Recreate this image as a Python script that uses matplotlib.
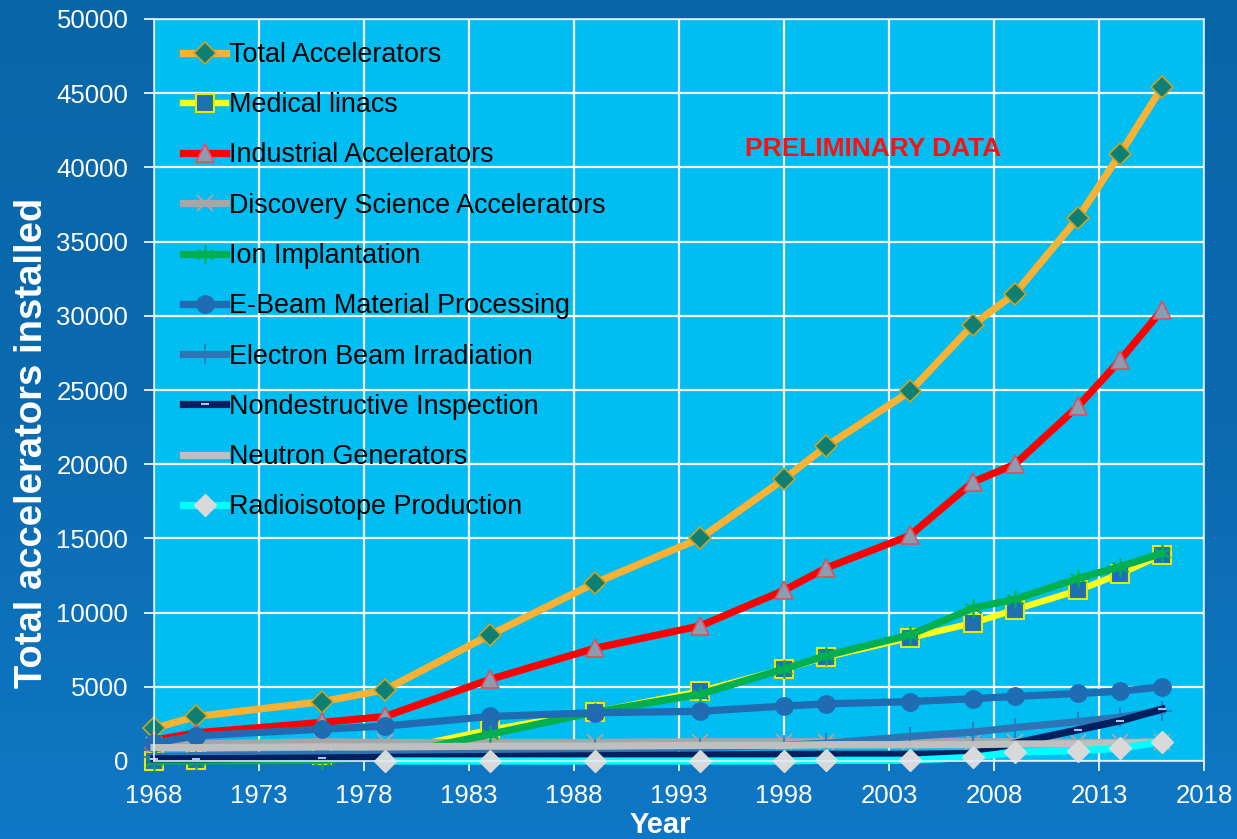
import numpy as np
import matplotlib
matplotlib.use('Agg')
import matplotlib.pyplot as plt
from matplotlib.colors import LinearSegmentedColormap

nan = np.nan
years = [1968, 1970, 1976, 1979, 1984, 1989, 1994, 1998, 2000, 2004, 2007, 2009, 2012, 2014, 2016]
total = [2200, 3000, 4000, 4800, 8500, 12000, 15000, 19000, 21200, 24900, 29400, 31500, 36600, 40900, 45400]
medical = [0, 100, 400, 600, 2100, 3300, 4700, 6200, 7000, 8300, 9300, 10200, 11500, 12600, 13900]
industrial = [1400, 1900, 2600, 3000, 5500, 7600, 9100, 11500, 13000, 15200, 18800, 20000, 23900, 27000, 30400]
discovery = [1100, 1150, 1300, 1250, 1250, 1250, 1300, 1300, 1300, 1300, 1300, 1300, 1250, 1250, 1300]
ion = [0, 0, 50, 300, 1800, 3300, 4500, 6200, 7100, 8500, 10300, 10900, 12300, 13100, 14000]
ebeam = [1200, 1700, 2150, 2350, 3000, 3250, 3350, 3700, 3850, 4000, 4200, 4350, 4550, 4700, 5000]
ebi = [300, 350, 450, 500, 700, 800, 900, 1050, 1200, 1650, 1950, 2250, 2650, 2950, 3400]
ndi = [150, 150, 200, 250, 300, 350, 400, 450, 450, 450, 500, 1200, 2100, 2700, 3500]
neutron = [900, 900, 950, 950, 1000, 1000, 1050, 1050, 1100, 1100, 1100, 1150, 1150, 1200, 1250]
radio = [nan, nan, nan, 0, 0, 0, 0, 0, 50, 50, 250, 600, 700, 850, 1300]

names = ["Total Accelerators", "Medical linacs", "Industrial Accelerators",
         "Discovery Science Accelerators", "Ion Implantation",
         "E-Beam Material Processing", "Electron Beam Irradiation",
         "Nondestructive Inspection", "Neutron Generators", "Radioisotope Production"]
x_ticks = [1968, 1973, 1978, 1983, 1988, 1993, 1998, 2003, 2008, 2013, 2018]
y_ticks = list(range(0, 50001, 5000))

plt.rcParams['font.family'] = ['Liberation Sans', 'DejaVu Sans']

W, H = 1237, 839
fig = plt.figure(figsize=(W / 100, H / 100), dpi=100)
fig.patch.set_facecolor('#0D63A6')

# background gradient
bg = fig.add_axes([0, 0, 1, 1], zorder=-10)
grad = np.linspace(0, 1, 256).reshape(-1, 1)
cmap = LinearSegmentedColormap.from_list('bg', ['#0F78C6', '#0B6AAF', '#0866A8'])
bg.imshow(grad, aspect='auto', cmap=cmap, extent=[0, 1, 0, 1], origin='lower')
bg.axis('off')

L, R, T, B = 154, 1204, 19, 761
ax = fig.add_axes([L / W, (H - B) / H, (R - L) / W, (B - T) / H])
ax.set_facecolor('#00BEF2')

series = [
    (total, dict(color='#F9B233', lw=5.2, marker='D', ms=11, mfc='#0E7F73', mec='#C9A227', mew=1.2)),
    (medical, dict(color='#FFFF1A', lw=4.6, marker='s', ms=12.5, mfc='#1F6FB5', mec='#E8E800', mew=1.5)),
    (industrial, dict(color='#FF0000', lw=5.2, marker='^', ms=13, mfc='#8D9BB3', mec='#E0505A', mew=1.2)),
    (discovery, dict(color='#A6A6A6', lw=5.2, marker='x', ms=12, mec='#A6A6A6', mew=1.5)),
    (ion, dict(color='#00B050', lw=5.2, marker=(6, 2, 0), ms=13, mec='#00B050', mew=1.2)),
    (ebeam, dict(color='#1F6CB2', lw=5.2, marker='o', ms=12.5, mfc='#1F6CB2', mec='#1F6CB2')),
    (ebi, dict(color='#2E75B6', lw=5.2, marker='+', ms=14, mec='#2E75B6', mew=1.2)),
    (ndi, dict(color='#001F5F', lw=5.2, marker='_', ms=6, mec='#A9C4EB', mew=1.5)),
    (neutron, dict(color='#BFBFBF', lw=5.2)),
    (radio, dict(color='#00FFFF', lw=5.2, marker='D', ms=11, mfc='#D9D9D9', mec='#D9D9D9')),
]
for (vals, style), name in zip(series, names):
    ax.plot(years, vals, label=name, clip_on=False, **style)

ax.set_xlim(1968, 2018)
ax.set_ylim(0, 50000)
ax.set_xticks(x_ticks)
ax.set_yticks(y_ticks)
ax.set_xticklabels([str(v) for v in x_ticks])
ax.set_yticklabels([str(v) for v in y_ticks])
ax.grid(True, color='white', lw=1.6)
ax.set_axisbelow(True)
for s in ax.spines.values():
    s.set_color('#DDEEFF')
    s.set_linewidth(1.2)
ax.tick_params(colors='white', labelcolor='white', labelsize=18.5, length=7.5, width=1.2)
ax.tick_params(axis='x', pad=9)
ax.tick_params(axis='y', pad=11)

leg = fig.legend(loc='upper left', bbox_to_anchor=(183 / W, 1 - 42 / H),
                 frameon=False, fontsize=19.4, handlelength=1.6, handletextpad=0.1,
                 labelspacing=0.9, borderpad=0, borderaxespad=0)
for t in leg.get_texts():
    t.set_color('black')

fig.text(873 / W, 1 - 149 / H, "PRELIMINARY DATA", color='#FF1010',
         fontsize=19, fontweight='bold', ha='center', va='center')
fig.text(32 / W, 1 - 443 / H, "Total accelerators installed", rotation=90,
         color='white', fontsize=27.5, fontweight='bold', ha='center', va='center')
fig.text(660 / W, 1 - 825 / H, "Year", color='white', fontsize=21,
         fontweight='bold', ha='center', va='center')
fig.text(746 / W, 1.0, "Accelerators Installed Worldwide", color='#E6F05A',
         fontsize=28, fontweight='bold', ha='center', va='baseline')

fig.savefig('out.png', dpi=100, facecolor=fig.get_facecolor())
